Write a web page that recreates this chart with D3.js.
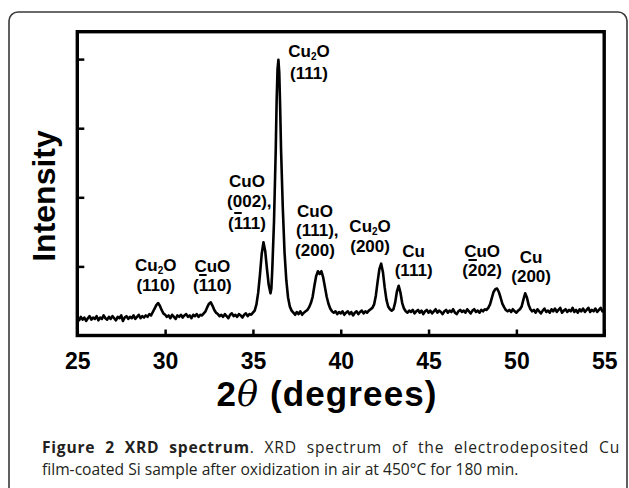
<!DOCTYPE html>
<html><head><meta charset="utf-8">
<script src="https://cdn.jsdelivr.net/npm/d3@7/dist/d3.min.js"></script>
<style>body{margin:0;background:#fff} svg{display:block}</style>
</head><body>
<svg id="c" width="629" height="488"></svg>
<script>
// ---- data ----
const spectrum = [
[25.0,0.25],[25.1,0.22],[25.2,0.27],[25.3,0.23],[25.4,0.26],[25.5,0.21],[25.6,0.25],[25.7,0.28],[25.8,0.23],[25.9,0.26],
[26.0,0.24],[26.1,0.28],[26.2,0.22],[26.3,0.26],[26.4,0.24],[26.5,0.29],[26.6,0.25],[26.7,0.23],[26.8,0.27],[26.9,0.24],
[27.0,0.28],[27.1,0.25],[27.2,0.22],[27.3,0.27],[27.4,0.25],[27.5,0.29],[27.6,0.21],[27.7,0.26],[27.8,0.28],[27.9,0.24],
[28.0,0.27],[28.1,0.25],[28.2,0.29],[28.3,0.24],[28.4,0.27],[28.5,0.30],[28.6,0.25],[28.7,0.28],[28.8,0.26],[28.9,0.29],
[29.0,0.27],[29.1,0.31],[29.2,0.29],[29.3,0.34],[29.4,0.39],[29.5,0.44],[29.6,0.47],[29.7,0.43],[29.8,0.37],[29.9,0.32],
[30.0,0.30],[30.1,0.27],[30.2,0.29],[30.3,0.25],[30.4,0.30],[30.5,0.27],[30.6,0.24],[30.7,0.29],[30.8,0.27],[30.9,0.30],
[31.0,0.26],[31.1,0.29],[31.2,0.31],[31.3,0.27],[31.4,0.29],[31.5,0.25],[31.6,0.30],[31.7,0.28],[31.8,0.31],[31.9,0.27],
[32.0,0.30],[32.1,0.29],[32.2,0.32],[32.3,0.35],[32.4,0.41],[32.5,0.46],[32.6,0.48],[32.7,0.43],[32.8,0.37],[32.9,0.33],
[33.0,0.31],[33.1,0.28],[33.2,0.30],[33.3,0.27],[33.4,0.31],[33.5,0.28],[33.6,0.25],[33.7,0.30],[33.8,0.32],[33.9,0.28],
[34.0,0.30],[34.1,0.27],[34.2,0.31],[34.3,0.29],[34.4,0.26],[34.5,0.30],[34.6,0.32],[34.7,0.28],[34.8,0.31],[34.9,0.30],
[35.0,0.33],[35.1,0.36],[35.2,0.45],[35.3,0.62],[35.4,0.88],[35.5,1.18],[35.6,1.35],[35.7,1.22],[35.8,0.96],[35.9,0.73],
[36.0,0.61],[36.05,0.68],[36.1,0.95],[36.2,1.65],[36.3,2.70],[36.35,3.40],[36.4,3.85],[36.45,3.99],[36.5,3.80],[36.55,3.30],
[36.6,2.70],[36.7,1.85],[36.8,1.20],[36.9,0.80],[37.0,0.55],[37.1,0.42],[37.2,0.36],[37.3,0.33],[37.4,0.30],[37.5,0.34],
[37.6,0.31],[37.7,0.35],[37.8,0.30],[37.9,0.33],[38.0,0.35],[38.1,0.37],[38.2,0.41],[38.3,0.47],[38.4,0.56],[38.5,0.72],
[38.6,0.86],[38.7,0.93],[38.8,0.89],[38.9,0.93],[39.0,0.84],[39.1,0.70],[39.2,0.56],[39.3,0.46],[39.4,0.39],[39.5,0.35],
[39.6,0.33],[39.7,0.35],[39.8,0.31],[39.9,0.34],[40.0,0.32],[40.1,0.35],[40.2,0.30],[40.3,0.33],[40.4,0.35],[40.5,0.31],
[40.6,0.34],[40.7,0.29],[40.8,0.33],[40.9,0.35],[41.0,0.31],[41.1,0.34],[41.2,0.36],[41.3,0.32],[41.4,0.35],[41.5,0.33],
[41.6,0.36],[41.7,0.38],[41.8,0.40],[41.9,0.45],[42.0,0.58],[42.1,0.78],[42.2,0.96],[42.3,1.04],[42.4,0.92],[42.5,0.70],
[42.6,0.52],[42.7,0.42],[42.8,0.38],[42.9,0.36],[43.0,0.38],[43.1,0.48],[43.2,0.64],[43.3,0.72],[43.4,0.62],[43.5,0.47],
[43.6,0.39],[43.7,0.35],[43.8,0.33],[43.9,0.36],[44.0,0.34],[44.1,0.37],[44.2,0.32],[44.3,0.35],[44.4,0.37],[44.5,0.33],
[44.6,0.36],[44.7,0.31],[44.8,0.35],[44.9,0.37],[45.0,0.33],[45.1,0.36],[45.2,0.32],[45.3,0.35],[45.4,0.38],[45.5,0.33],
[45.6,0.36],[45.7,0.34],[45.8,0.31],[45.9,0.35],[46.0,0.37],[46.1,0.33],[46.2,0.36],[46.3,0.34],[46.4,0.38],[46.5,0.33],
[46.6,0.31],[46.7,0.35],[46.8,0.37],[46.9,0.34],[47.0,0.36],[47.1,0.33],[47.2,0.38],[47.3,0.35],[47.4,0.32],[47.5,0.36],
[47.6,0.38],[47.7,0.34],[47.8,0.36],[47.9,0.33],[48.0,0.37],[48.1,0.35],[48.2,0.38],[48.3,0.37],[48.4,0.40],[48.5,0.45],
[48.6,0.54],[48.7,0.63],[48.8,0.67],[48.9,0.68],[49.0,0.63],[49.1,0.55],[49.2,0.46],[49.3,0.41],[49.4,0.37],[49.5,0.35],
[49.6,0.37],[49.7,0.34],[49.8,0.38],[49.9,0.35],[50.0,0.33],[50.1,0.36],[50.2,0.38],[50.3,0.42],[50.4,0.52],[50.5,0.61],
[50.6,0.55],[50.7,0.44],[50.8,0.38],[50.9,0.35],[51.0,0.37],[51.1,0.33],[51.2,0.38],[51.3,0.35],[51.4,0.32],[51.5,0.36],
[51.6,0.39],[51.7,0.34],[51.8,0.36],[51.9,0.33],[52.0,0.38],[52.1,0.35],[52.2,0.39],[52.3,0.34],[52.4,0.37],[52.5,0.40],
[52.6,0.33],[52.7,0.36],[52.8,0.38],[52.9,0.34],[53.0,0.37],[53.1,0.35],[53.2,0.40],[53.3,0.34],[53.4,0.37],[53.5,0.33],
[53.6,0.38],[53.7,0.35],[53.8,0.39],[53.9,0.34],[54.0,0.37],[54.1,0.40],[54.2,0.34],[54.3,0.37],[54.4,0.35],[54.5,0.39],
[54.6,0.34],[54.7,0.37],[54.8,0.40],[54.9,0.35],[55.0,0.37]
];
const xTicks = [25, 30, 35, 40, 45, 50, 55];
const yTicks = [1, 2, 3, 4];
// peak annotations: "_" = next char subscript, "~" = next char overlined
const peakAngles = [29.47, 32.69, 34.66, 38.19, 38.53, 41.67, 44.15, 48.05, 50.84];
const peakLabels = [
  ["Cu_2O", "(110)"],
  ["CuO", "(~110)"],
  ["CuO", "(002),", "(~111)"],
  ["Cu_2O", "(111)"],
  ["CuO", "(111),", "(200)"],
  ["Cu_2O", "(200)"],
  ["Cu", "(111)"],
  ["CuO", "(~202)"],
  ["Cu", "(200)"]
];
const xTitle = ["2", "θ", " (degrees)"];
const yTitle = "Intensity";
const captionBold = "Figure 2 XRD spectrum";
const captionLine1 = ". XRD spectrum of the electrodeposited Cu";
const captionLine2 = "film-coated Si sample after oxidization in air at 450°C for 180 min.";

// ---- layout ----
const labelBaselines = [[271,291],[272,291],[187,207,229],[57,79],[217,236,256],[232,252],[257,276],[257,276],[263,282]];
const L = 77.3, R = 604.2, T = 31.7, B = 335.5;
const svg = d3.select("#c");
const FONT = "'Liberation Sans', Arial, sans-serif";

// outer rounded box
svg.append("rect").attr("x", 9).attr("y", 12).attr("width", 618).attr("height", 485)
  .attr("rx", 9).attr("fill", "#fff").attr("stroke", "#3a3a3a").attr("stroke-width", 1.6);

const x = d3.scaleLinear().domain([25, 55]).range([L, R]);
const y = d3.scaleLinear().domain([0, (B - T) / 69.1]).range([B, T]);

// spectrum line
svg.append("path").datum(spectrum)
  .attr("d", d3.line().x(d => x(d[0])).y(d => y(d[1])))
  .attr("fill", "none").attr("stroke", "#000").attr("stroke-width", 2.6)
  .attr("stroke-linejoin", "round");

// axes
const xa = svg.append("g").attr("transform", `translate(0,${B})`)
  .call(d3.axisBottom(x).tickValues(xTicks).tickSizeInner(-6).tickSizeOuter(0).tickPadding(17).tickFormat(d3.format("d")));
xa.select(".domain").remove();
xa.selectAll("line").attr("stroke", "#000").attr("stroke-width", 2.5);
xa.selectAll("text").attr("font-family", FONT).attr("font-weight", "bold").attr("font-size", 23).attr("fill", "#000");

const ya = svg.append("g").attr("transform", `translate(${L},0)`)
  .call(d3.axisLeft(y).tickValues(yTicks).tickSizeInner(-7).tickSizeOuter(0).tickFormat(""));
ya.select(".domain").remove();
ya.selectAll("line").attr("stroke", "#000").attr("stroke-width", 2.5);

// frame
svg.append("rect").attr("x", L).attr("y", T).attr("width", R - L).attr("height", B - T)
  .attr("fill", "none").attr("stroke", "#000").attr("stroke-width", 3.4);

// peak labels
const SUB = 10, SUBDY = 3;
const lg = svg.append("g").attr("font-family", FONT).attr("font-weight", "bold").attr("font-size", 17).attr("fill", "#000");
function parse(str) {
  const segs = [];
  for (let k = 0; k < str.length; k++) {
    const c = str[k];
    if (c === "_") { segs.push({ ch: str[k + 1], sub: true }); k++; }
    else if (c === "~") { segs.push({ ch: str[k + 1], bar: true }); k++; }
    else segs.push({ ch: c });
  }
  return segs;
}
peakLabels.forEach((lines, i) => {
  const cx = x(peakAngles[i]);
  const t = lg.append("text");
  const bars = [];
  lines.forEach((str, j) => {
    const by = labelBaselines[i][j];
    const segs = parse(str);
    const tmp = lg.append("text");
    segs.forEach(s => tmp.append("tspan").attr("font-size", s.sub ? SUB : null).text(s.ch));
    const n = tmp.node();
    let w = n.getComputedTextLength();
    if (str.endsWith(",")) w -= n.getSubStringLength(segs.length - 1, 1);
    const x0 = cx - w / 2;
    segs.forEach((s, k) => {
      if (s.bar) bars.push([x0 + n.getStartPositionOfChar(k).x, x0 + n.getEndPositionOfChar(k).x, by - 16]);
    });
    tmp.remove();
    let shifted = false;
    segs.forEach((s, k) => {
      const sp = t.append("tspan").text(s.ch);
      if (k === 0) sp.attr("x", x0).attr("y", by);
      if (s.sub) { sp.attr("font-size", SUB).attr("dy", SUBDY); shifted = true; }
      else if (shifted) { sp.attr("dy", -SUBDY); shifted = false; }
    });
  });
  bars.forEach(b => lg.append("line").attr("x1", b[0] + 0.5).attr("x2", b[1] - 0.5)
    .attr("y1", b[2]).attr("y2", b[2]).attr("stroke", "#000").attr("stroke-width", 2));
});

// axis titles
const xt = svg.append("text").attr("x", 327).attr("y", 406).attr("text-anchor", "middle")
  .attr("font-family", FONT).attr("font-weight", "bold").attr("font-size", 35).attr("fill", "#000");
xt.append("tspan").text(xTitle[0]);
xt.append("tspan").attr("font-style", "italic").attr("font-weight", "normal").attr("font-family", "'DejaVu Serif', serif").text(xTitle[1]);
xt.append("tspan").text(xTitle[2]);
{
  const w = xt.node().getComputedTextLength();
  const n = xTitle.join("").length - 1;
  xt.attr("letter-spacing", (220 - w) / n);
}

svg.append("text").attr("transform", "translate(55,196) rotate(-90)").attr("text-anchor", "middle")
  .attr("font-family", FONT).attr("font-weight", "bold").attr("font-size", 32).attr("fill", "#000").text(yTitle);

// caption
const CF = "'Open Sans', sans-serif";
const c2 = svg.append("text").attr("x", 42).attr("y", 475).attr("font-family", CF).attr("font-size", 15).attr("fill", "#231f20").text(captionLine2);
const cfs = 15 * 477 / c2.node().getComputedTextLength();
c2.attr("font-size", cfs);
const c1 = svg.append("text").attr("x", 42).attr("y", 453).attr("font-family", CF).attr("font-size", cfs).attr("fill", "#231f20");
const cb = c1.append("tspan").attr("font-weight", "bold").text(captionBold);
c1.append("tspan").text(captionLine1);
{
  const w1 = c1.node().getComputedTextLength();
  const full = captionBold + captionLine1;
  const gaps = full.split(" ").length - 1;
  const extra = Math.max(0, 578 - w1);
  const ls = extra * 0.5 / (full.length - 1);
  c1.attr("letter-spacing", ls);
  const w1b = c1.node().getComputedTextLength();
  c1.attr("word-spacing", Math.max(0, (578 - w1b) / gaps));
}
</script>
</body></html>
